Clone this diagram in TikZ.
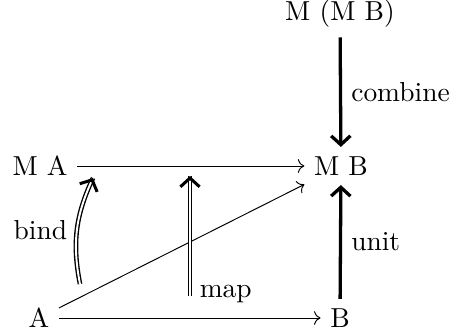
\documentclass[tikz,border=0pt]{standalone}
\usepackage{tikz}
\usetikzlibrary{arrows.meta, decorations.markings}

\begin{document}
\begin{tikzpicture}[x=0.364pt, y=-0.364pt, >=To,
		plain/.style={->, line width=0.35pt},
		heavy/.style={-{Straight Barb[length=3.2pt, width=7pt]}, line width=1.2pt},
		twin/.style={double, line width=0.5pt, double distance=0.7pt,
			postaction={decorate, decoration={markings, mark=at position 1 with {\pgfsetinnerlinewidth{0pt}\arrow[line width=1.1pt]{Straight Barb[length=3.2pt, width=7pt]}}}}}]
		\useasboundingbox (0,0) rectangle (457,335);
		
		% Objekte
		\node (A)   at (39,318)  {A};
		\node (B)   at (340,318) {B};
		\node (MA)  at (40,166)  {M A};
		\node (MB)  at (341,166) {M B};
		\node (MMB) at (340,14)  {M (M B)};
		
		% Hilfspunkte
		\coordinate (bindS) at (80,284);
		\coordinate (bindE) at (93,178);
		\coordinate (mapS)  at (190,296);
		\coordinate (mapE)  at (190,176);
		
		% Pfeile
		\draw[plain] (A) -- (B);
		\draw[plain] (MA) -- (MB);
		\draw[plain] (A) -- (MB);
		\draw[heavy] (MMB) -- node[right] {combine} (MB);
		\draw[heavy] (B) -- node[right] {unit} (MB);
		\draw[twin] (mapS) -- node[pos=0.02, right] {map} (mapE);
		\draw[twin] (bindS) to[bend left=18] node[left] {bind} (bindE);
	\end{tikzpicture}
\end{document}
